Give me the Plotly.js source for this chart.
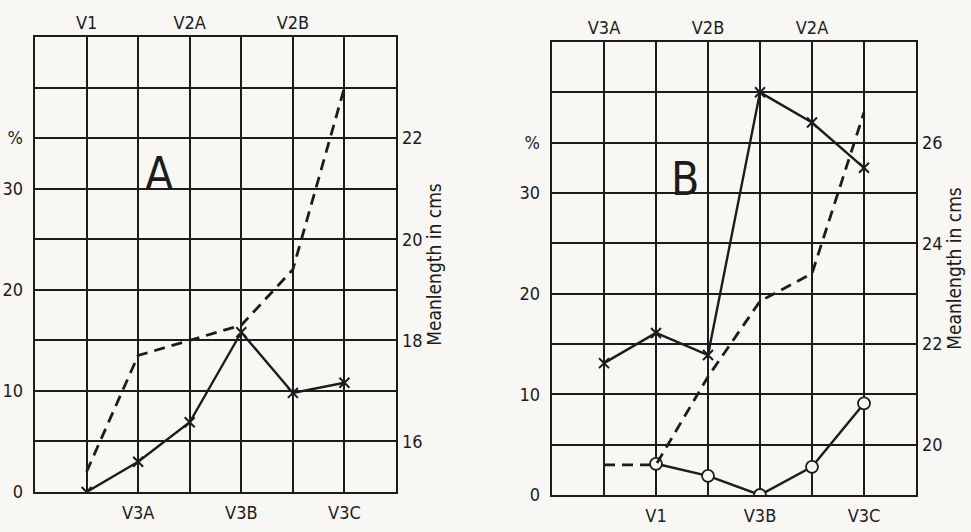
<!DOCTYPE html>
<html>
<head>
<meta charset="utf-8">
<script src="https://cdn.plot.ly/plotly-3.0.1.min.js"></script>
<style>
  html, body { margin: 0; padding: 0; background: #f8f7f3; }
  #chart { width: 971px; height: 532px; }
</style>
</head>
<body>
<div id="chart"></div>
<script>
// ---- Data ----
// Panel A
var categoriesA = ['V1', 'V3A', 'V2A', 'V3B', 'V2B', 'V3C'];
var percentA = [0, 3.0, 6.9, 15.8, 9.8, 10.8];          // solid line, x markers (%)
var lengthA = [15.4, 17.7, 18.0, 18.3, 19.4, 23.0];     // dashed line (mean length, cm)

// Panel B
var categoriesB = ['V3A', 'V1', 'V2B', 'V3B', 'V2A', 'V3C'];
var percentB1 = [13.1, 16.1, 13.9, 40.0, 37.0, 32.5];   // solid line, x markers (%)
var percentB2 = [null, 3.1, 1.9, 0, 2.8, 9.1];          // solid line, open circles (%)
var lengthB = [19.6, 19.6, 21.35, 22.85, 23.4, 26.6];   // dashed line (mean length, cm)

// Axis tick labels
var pctTickVals = [0, 5, 10, 15, 20, 25, 30, 35, 40, 45];
var pctTickText = ['0', '', '10', '', '20', '', '30', '%', '', ''];
var lenTicksA = [16, 18, 20, 22];
var lenTicksB = [20, 22, 24, 26];
var lengthTitle = 'Meanlength in cms';
var panelLabels = ['A', 'B'];

// ---- Helpers ----
function positions(cats) { return cats.map(function (c, i) { return i + 1; }); }
function bottomText(cats) { return cats.map(function (c, i) { return i % 2 === 1 ? c : ''; }); }
function topText(cats) { return cats.map(function (c, i) { return i % 2 === 0 ? c : ''; }); }

var INK = '#1c1c1c';
var BG = '#f8f7f3';
var FONT = '"DejaVu Sans Condensed", "Liberation Sans Narrow", "DejaVu Sans", sans-serif';
var W = 971, H = 532;
function dx(a, b) { return [a / W, b / W]; }
function dy(top, bottom) { return [1 - bottom / H, 1 - top / H]; }

var xA = positions(categoriesA);
var xB = positions(categoriesB);

var traces = [
  { x: xA, y: lengthA, xaxis: 'x', yaxis: 'y2', mode: 'lines',
    line: { color: INK, width: 2.8, dash: '11px,7px' } },
  { x: xA, y: percentA, xaxis: 'x', yaxis: 'y', mode: 'lines+markers',
    line: { color: INK, width: 2.4 },
    marker: { symbol: 'x-thin', size: 10, line: { color: INK, width: 2 } } },

  { x: xB, y: lengthB, xaxis: 'x3', yaxis: 'y4', mode: 'lines',
    line: { color: INK, width: 2.8, dash: '11px,7px' } },
  { x: xB, y: percentB1, xaxis: 'x3', yaxis: 'y3', mode: 'lines+markers',
    line: { color: INK, width: 2.4 },
    marker: { symbol: 'x-thin', size: 10, line: { color: INK, width: 2 } } },
  { x: xB, y: percentB2, xaxis: 'x3', yaxis: 'y3', mode: 'lines+markers',
    line: { color: INK, width: 2.4 },
    marker: { symbol: 'circle', size: 12, color: BG, line: { color: INK, width: 1.8 } } }
];

function bottomAxis(domain, cats) {
  return {
    domain: domain, range: [0, 7], tickmode: 'array',
    tickvals: positions(cats), ticktext: bottomText(cats),
    showgrid: true, gridcolor: INK, gridwidth: 2, zeroline: false,
    showline: true, linecolor: INK, linewidth: 2.4, mirror: true,
    ticks: '', ticklabelstandoff: 3,
    tickfont: { family: FONT, size: 18, color: INK }, fixedrange: true
  };
}
function topAxis(over, anchor, cats) {
  return {
    overlaying: over, anchor: anchor, side: 'top', range: [0, 7], tickmode: 'array',
    tickvals: positions(cats), ticktext: topText(cats),
    showgrid: false, zeroline: false, showline: false, ticks: '', ticklabelstandoff: 3,
    tickfont: { family: FONT, size: 18, color: INK }, fixedrange: true
  };
}
function pctAxis(domain, anchor) {
  return {
    domain: domain, anchor: anchor, range: [0, 45], tickmode: 'array',
    tickvals: pctTickVals, ticktext: pctTickText,
    showgrid: true, gridcolor: INK, gridwidth: 2, zeroline: false,
    showline: true, linecolor: INK, linewidth: 2.4, mirror: true,
    ticks: '', ticklabelstandoff: 6,
    tickfont: { family: FONT, size: 18, color: INK }, fixedrange: true
  };
}
function lenAxis(over, anchor, range, ticks) {
  return {
    overlaying: over, anchor: anchor, side: 'right', range: range, tickmode: 'array',
    tickvals: ticks, showgrid: false, zeroline: false, showline: false,
    ticks: '', ticklabelstandoff: 5,
    tickfont: { family: FONT, size: 18, color: INK },
    title: { text: lengthTitle, font: { family: FONT, size: 19, color: INK }, standoff: 0 },
    fixedrange: true
  };
}

var layout = {
  width: W, height: H,
  paper_bgcolor: BG, plot_bgcolor: BG,
  margin: { l: 0, r: 0, t: 0, b: 0 },
  showlegend: false,
  xaxis: Object.assign(bottomAxis(dx(35, 396), categoriesA), { anchor: 'y' }),
  xaxis2: topAxis('x', 'y', categoriesA),
  yaxis: pctAxis(dy(37, 492), 'x'),
  yaxis2: lenAxis('y', 'x', [15, 24], lenTicksA),
  xaxis3: Object.assign(bottomAxis(dx(552, 916), categoriesB), { anchor: 'y3' }),
  xaxis4: topAxis('x3', 'y3', categoriesB),
  yaxis3: pctAxis(dy(42, 495), 'x3'),
  yaxis4: lenAxis('y3', 'x3', [19, 28], lenTicksB),
  annotations: [
    { text: panelLabels[0], xref: 'x', yref: 'y', x: 2.4, y: 31.5, showarrow: false,
      font: { family: FONT, size: 46, color: INK } },
    { text: panelLabels[1], xref: 'x3', yref: 'y3', x: 2.55, y: 31.4, showarrow: false,
      font: { family: FONT, size: 46, color: INK } }
  ]
};

// empty traces so the top axes are drawn
traces.push({ x: [0], y: [null], xaxis: 'x2', yaxis: 'y', hoverinfo: 'skip', showlegend: false });
traces.push({ x: [0], y: [null], xaxis: 'x4', yaxis: 'y3', hoverinfo: 'skip', showlegend: false });

Plotly.newPlot('chart', traces, layout, { staticPlot: true });
</script>
</body>
</html>
